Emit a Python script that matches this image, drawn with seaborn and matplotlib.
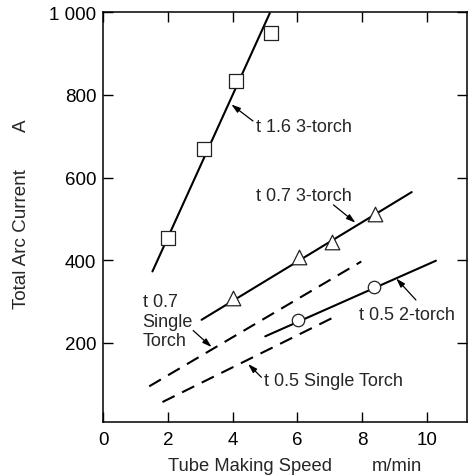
import matplotlib
matplotlib.use("Agg")
import matplotlib.pyplot as plt
import seaborn as sns
import pandas as pd

# ---- data ----
sq_x = [2.0, 3.13, 4.12, 5.18]          # t 1.6 3-torch points
sq_y = [453, 670, 833, 950]
sq_line_x = [1.52, 5.15]
sq_line_y = [373, 998]

tri_x = [4.0, 6.05, 7.08, 8.39]         # t 0.7 3-torch points
tri_y = [308, 407, 445, 511]
tri_line_x = [3.04, 9.54]
tri_line_y = [256, 565]

cir_x = [6.03, 8.36]                    # t 0.5 2-torch points
cir_y = [255, 336]
cir_line_x = [5.01, 10.29]
cir_line_y = [216, 399]

d07_x = [1.42, 7.98]                    # t 0.7 single torch (dashed)
d07_y = [95, 397]
d05_x = [1.83, 7.28]                    # t 0.5 single torch (dashed)
d05_y = [57, 268]

x_ticks = [0, 2, 4, 6, 8, 10]
y_ticks = [200, 400, 600, 800, 1000]
y_tick_labels = ["200", "400", "600", "800", "1 000"]

sns.set_theme(style="ticks")
plt.rcParams["font.family"] = ["Liberation Sans", "DejaVu Sans"]
plt.rcParams["axes.linewidth"] = 1.1

fig = plt.figure(figsize=(4.73, 4.77), dpi=100)
ax = fig.add_axes([0.2184, 0.1126, 0.7689, 0.8595])

lw = 1.5
dash = (0, (6.5, 4.0))

def line(xs, ys, ls="-"):
    df = pd.DataFrame({"x": xs, "y": ys})
    sns.lineplot(data=df, x="x", y="y", ax=ax, color="black", lw=lw,
                 linestyle=ls, sort=False, estimator=None)

line(sq_line_x, sq_line_y)
line(tri_line_x, tri_line_y)
line(cir_line_x, cir_line_y)
line(d07_x, d07_y, dash)
line(d05_x, d05_y, dash)

def pts(xs, ys, m, s):
    df = pd.DataFrame({"x": xs, "y": ys})
    sns.scatterplot(data=df, x="x", y="y", ax=ax, marker=m, s=s,
                    facecolor="white", edgecolor="#222222", linewidth=0.9,
                    zorder=5)

pts(sq_x, sq_y, "s", 100)
pts(tri_x, tri_y, "^", 110)
pts(cir_x, cir_y, "o", 80)

ax.set_xlim(0, 11.25)
ax.set_ylim(8, 1000)
ax.set_xticks(x_ticks)
ax.set_xticklabels([str(v) for v in x_ticks])
ax.set_yticks(y_ticks)
ax.set_yticklabels(y_tick_labels)
ax.tick_params(direction="in", length=7, width=1.0, top=True, right=True,
               labelsize=13.5, colors="black", pad=6)
ax.tick_params(axis="y", pad=5)
ax.set_xlabel("")
ax.set_ylabel("")
for s in ax.spines.values():
    s.set_color("black")

fs = 13
lab = 13.2
ax.text(0.403, -0.106, "Tube Making Speed", transform=ax.transAxes,
        ha="center", va="center", fontsize=lab)
ax.text(0.806, -0.106, "m/min", transform=ax.transAxes,
        ha="center", va="center", fontsize=lab)
ax.text(-0.224, 0.4495, "Total Arc Current", transform=ax.transAxes,
        ha="center", va="center", rotation=90, fontsize=13.6)
ax.text(-0.224, 0.726, "A", transform=ax.transAxes,
        ha="center", va="center", rotation=90, fontsize=13.6)

ax.text(4.71, 724, "t 1.6 3-torch", ha="left", va="center", fontsize=fs)
ax.text(4.71, 556, "t 0.7 3-torch", ha="left", va="center", fontsize=fs)
ax.text(1.216, 253, "t 0.7\nSingle\nTorch", ha="left", va="center",
        fontsize=fs, linespacing=1.2)
ax.text(7.9, 270, "t 0.5 2-torch", ha="left", va="center", fontsize=fs)
ax.text(4.97, 109, "t 0.5 Single Torch", ha="left", va="center", fontsize=fs)

arrows = [((3.96, 777), (4.63, 737)),
          ((7.80, 491), (7.12, 534)),
          ((3.35, 190), (2.78, 230)),
          ((9.06, 356), (9.67, 304)),
          ((4.48, 149), (4.89, 117))]
for head, tail in arrows:
    ax.annotate("", xy=head, xytext=tail,
                arrowprops=dict(arrowstyle="-|>,head_length=0.45,head_width=0.14",
                                color="black", lw=0.9, shrinkA=0, shrinkB=0))

fig.savefig("out.png", dpi=100)
